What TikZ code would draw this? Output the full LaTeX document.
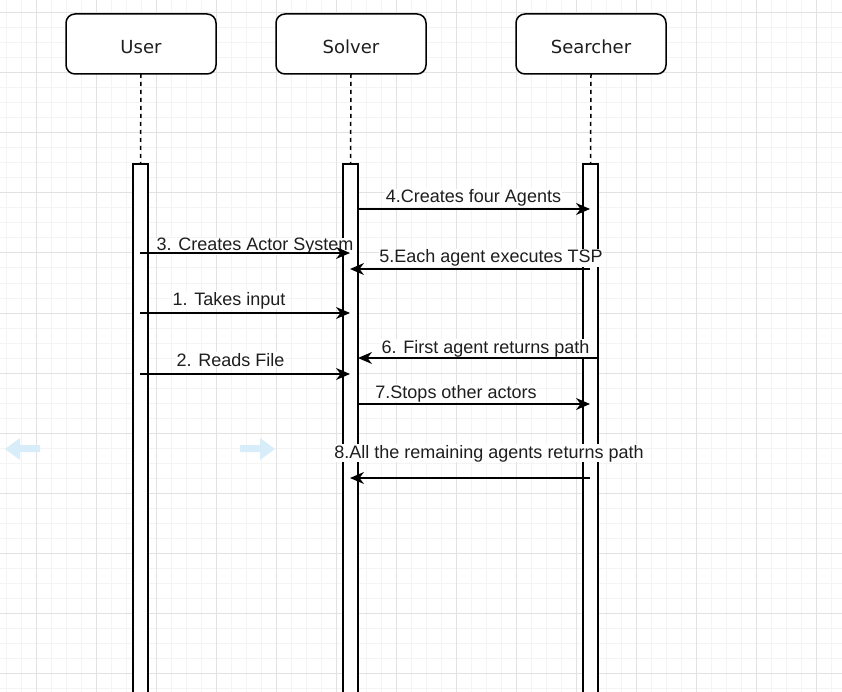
\documentclass[tikz,border=0pt]{standalone}
\usepackage{fontspec}
\setmainfont{Liberation Sans}
\newfontfamily\boxfont{DejaVu Sans}
\usetikzlibrary{arrows.meta}
\definecolor{minorgrid}{RGB}{244,244,244}
\definecolor{majorgrid}{RGB}{226,226,226}
\definecolor{hintblue}{RGB}{216,237,250}
\definecolor{txt}{RGB}{30,30,30}
\begin{document}
\begin{tikzpicture}[x=1pt,y=-1pt,
 every node/.style={inner sep=0pt, outer sep=0pt},
 actorbox/.style={draw, line width=1.5pt, rounded corners=9pt, minimum width=150pt, minimum height=60pt, fill=white},
 actorlabel/.style={font=\boxfont\fontsize{18}{21}\selectfont, anchor=base, text=txt},
 lifebar/.style={draw, line width=1.5pt, fill=white, minimum width=15pt, minimum height=560pt, anchor=north},
 life/.style={line width=1.5pt, dash pattern=on 4pt off 4pt},
 msg/.style={line width=1.5pt, -{Stealth[length=14pt,width=12pt,inset=4.5pt]}},
 msglabel/.style={font=\fontsize{18}{21}\selectfont, anchor=base, fill=white, inner sep=0.5pt, text=txt},
 hint/.style={fill=hintblue, draw=none},
 gridminor/.style={draw=minorgrid, line width=1pt},
 gridmajor/.style={draw=majorgrid, line width=1pt}
]
\useasboundingbox (0,0) rectangle (842,692);
\clip (0,0) rectangle (842,692);
\fill[white] (0,0) rectangle (842,692);
% grid
\foreach \x in {6,21,...,846} \draw[gridminor] (\x,0) -- (\x,692);
\foreach \y in {-2,13,...,700} \draw[gridminor] (0,\y) -- (842,\y);
\foreach \x in {36,96,...,816} \draw[gridmajor] (\x,0) -- (\x,692);
\foreach \y in {13,73,...,673} \draw[gridmajor] (0,\y) -- (842,\y);
% hint arrows
\fill[hint] (40,445) -- (20,445) -- (20,438) -- (5,449) -- (20,460) -- (20,452) -- (40,452) -- cycle;
\fill[hint] (240,445) -- (260,445) -- (260,438) -- (275,449) -- (260,460) -- (260,452) -- (240,452) -- cycle;
% activation bars
\node[lifebar] (userbar) at (140.5,164) {};
\node[lifebar] (solverbar) at (350.5,164) {};
\node[lifebar] (searcherbar) at (590.5,164) {};
% actor boxes
\node[actorbox] (user) at (141,44) {};
\node[actorbox] (solver) at (351,44) {};
\node[actorbox] (searcher) at (591,44) {};
\node[actorlabel] (usert) at (141,53.5) {User};
\node[actorlabel] (solvert) at (351,53.5) {Solver};
\node[actorlabel] (searchert) at (591,53.5) {Searcher};
% lifelines
\draw[life] (user.south) -- (userbar.north);
\draw[life] (solver.south) -- (solverbar.north);
\draw[life] (searcher.south) -- (searcherbar.north);
% message labels
\node[msglabel] (l4) at (473.5,203) {4.Creates four Agents};
\node[msglabel] (l3) at (255,251) {3. Creates Actor System};
\node[msglabel] (l5) at (491,263) {5.Each agent executes TSP};
\node[msglabel] (l1) at (229,305) {1. Takes input};
\node[msglabel] (l6) at (485.5,353) {6. First agent returns path};
\node[msglabel] (l2) at (230.5,366) {2. Reads File};
\node[msglabel] (l7) at (456,398) {7.Stops other actors};
\node[msglabel] (l8) at (489,458) {8.All the remaining agents returns path};
% message endpoints
\coordinate (m4a) at (358,209); \coordinate (m4b) at (590,209);
\coordinate (m3a) at (140,253); \coordinate (m3b) at (350,253);
\coordinate (m5a) at (590,269); \coordinate (m5b) at (350,269);
\coordinate (m1a) at (140,313); \coordinate (m1b) at (350,313);
\coordinate (m6a) at (598,358); \coordinate (m6b) at (358,358);
\coordinate (m2a) at (140,374); \coordinate (m2b) at (350,374);
\coordinate (m7a) at (358,404); \coordinate (m7b) at (590,404);
\coordinate (m8a) at (590,478); \coordinate (m8b) at (350,478);
\draw[msg] (m4a) -- (m4b);
\draw[msg] (m3a) -- (m3b);
\draw[msg] (m5a) -- (m5b);
\draw[msg] (m1a) -- (m1b);
\draw[msg] (m6a) -- (m6b);
\draw[msg] (m2a) -- (m2b);
\draw[msg] (m7a) -- (m7b);
\draw[msg] (m8a) -- (m8b);
\end{tikzpicture}
\end{document}
